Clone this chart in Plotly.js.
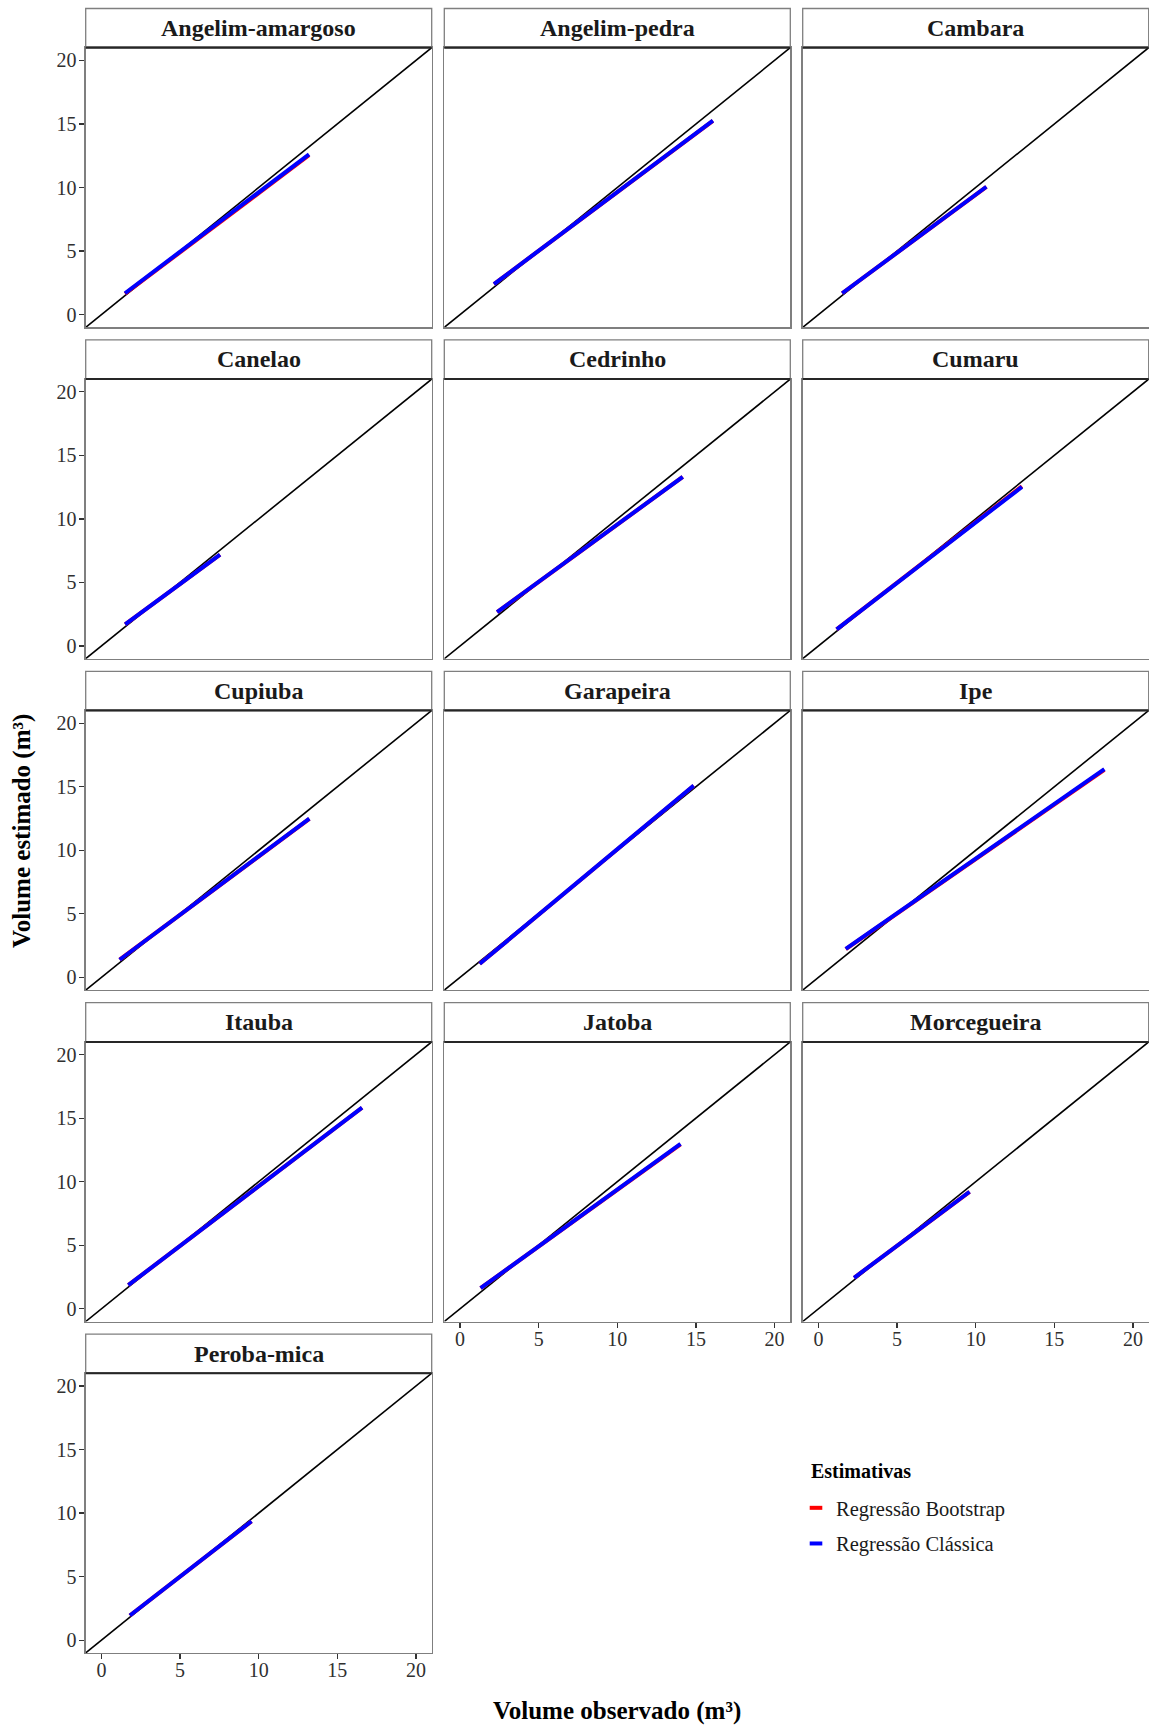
<!DOCTYPE html>
<html>
<head>
<meta charset="utf-8">
<script src="https://cdn.plot.ly/plotly-3.0.1.min.js"></script>
<style>
  html, body { margin: 0; padding: 0; background: #ffffff; }
  #chart { width: 1149px; height: 1728px; }
</style>
</head>
<body>
<div id="chart"></div>
<script>
// Observed vs. estimated volume per species, fitted lines of two regressions
const species = [
  'Angelim-amargoso', 'Angelim-pedra', 'Cambara',
  'Canelao', 'Cedrinho', 'Cumaru',
  'Cupiuba', 'Garapeira', 'Ipe',
  'Itauba', 'Jatoba', 'Morcegueira',
  'Peroba-mica'
];

// Observed volume (m³) at the ends of each fitted line
const obsStart = [1.50, 2.16, 1.51, 1.51, 2.36, 1.16, 1.16, 1.25, 1.74, 1.71, 1.31, 2.27, 1.81];
const obsEnd   = [13.20, 16.08, 10.68, 7.54, 14.16, 12.94, 13.22, 14.86, 18.18, 16.57, 14.02, 9.61, 9.54];

// Estimated volume (m³), classical regression
const classicStart = [1.68, 2.40, 1.68, 1.70, 2.67, 1.31, 1.39, 1.07, 2.25, 1.86, 1.62, 2.44, 1.94];
const classicEnd   = [12.61, 15.26, 10.06, 7.19, 13.31, 12.52, 12.49, 15.09, 16.38, 15.83, 12.97, 9.21, 9.36];

// Estimated volume (m³), bootstrap regression
const bootStart = [1.64, 2.40, 1.68, 1.70, 2.67, 1.31, 1.39, 1.07, 2.23, 1.86, 1.62, 2.44, 1.94];
const bootEnd   = [12.54, 15.24, 10.05, 7.18, 13.30, 12.57, 12.48, 15.08, 16.33, 15.82, 12.93, 9.20, 9.35];

const axisRange = [-1, 21];
const tickValues = [0, 5, 10, 15, 20];
const tickLabels = ['0', '5', '10', '15', '20'];

const seriesNames = ['Regressão Bootstrap', 'Regressão Clássica'];
const seriesColors = ['#ff0000', '#0000ff'];

// Page geometry (pixels)
const W = 1149, H = 1728;
const colLeft = [85.7, 444.3, 802.7];
const panelW = 346.0;
const firstPlotTop = 47.7;
const rowPitch = 331.4;
const plotH = 279.6;
const stripH = 39.2;

const px = x => x / W;
const py = y => 1 - y / H;

const serif = 'Liberation Serif, Times New Roman, serif';
const borderColor = '#7f7f7f';

const traces = [];
const layout = {
  width: W,
  height: H,
  margin: {l: 0, r: 0, t: 0, b: 0},
  paper_bgcolor: '#ffffff',
  plot_bgcolor: '#ffffff',
  font: {family: serif, size: 20, color: '#303030'},
  showlegend: true,
  legend: {
    x: px(796), y: py(1488), xanchor: 'left', yanchor: 'top',
    font: {family: serif, size: 20.5, color: '#1a1a1a'},
    bgcolor: 'rgba(255,255,255,0)',
    borderwidth: 0,
    tracegroupgap: 6
  },
  shapes: [],
  annotations: []
};

// Bottom-row panels carry the x tick labels
const xLabelled = new Set([10, 11, 12]);

species.forEach((name, i) => {
  const row = Math.floor(i / 3);
  const col = i % 3;
  const n = i + 1;
  const xa = 'x' + (n === 1 ? '' : n);
  const ya = 'y' + (n === 1 ? '' : n);
  const top = firstPlotTop + row * rowPitch;
  const left = colLeft[col];

  const common = {
    range: axisRange,
    autorange: false,
    fixedrange: true,
    showgrid: false,
    zeroline: false,
    showline: true,
    mirror: true,
    linecolor: borderColor,
    linewidth: 1.3,
    tickmode: 'array',
    tickvals: tickValues,
    ticktext: tickLabels,
    tickcolor: '#333333',
    ticklen: 5,
    tickwidth: 1.2,
    tickfont: {family: serif, size: 20, color: '#303030'}
  };

  layout['xaxis' + (n === 1 ? '' : n)] = Object.assign({}, common, {
    domain: [px(left), px(left + panelW)],
    anchor: ya,
    ticks: xLabelled.has(i) ? 'outside' : '',
    showticklabels: xLabelled.has(i),
    ticklabelstandoff: -6
  });
  layout['yaxis' + (n === 1 ? '' : n)] = Object.assign({}, common, {
    domain: [py(top + plotH), py(top)],
    anchor: xa,
    ticks: col === 0 ? 'outside' : '',
    showticklabels: col === 0,
    ticklabelstandoff: -1
  });

  // 1:1 reference line across the panel
  traces.push({
    x: axisRange, y: axisRange, xaxis: xa, yaxis: ya,
    mode: 'lines', line: {color: '#000000', width: 1.6},
    showlegend: false, hoverinfo: 'skip', cliponaxis: true
  });
  // Bootstrap regression
  traces.push({
    x: [obsStart[i], obsEnd[i]], y: [bootStart[i], bootEnd[i]],
    xaxis: xa, yaxis: ya, mode: 'lines',
    line: {color: seriesColors[0], width: 4},
    name: seriesNames[0], showlegend: false
  });
  // Classical regression
  traces.push({
    x: [obsStart[i], obsEnd[i]], y: [classicStart[i], classicEnd[i]],
    xaxis: xa, yaxis: ya, mode: 'lines',
    line: {color: seriesColors[1], width: 4},
    name: seriesNames[1], showlegend: false
  });

  // Facet strip
  layout.shapes.push({
    type: 'rect', xref: 'paper', yref: 'paper',
    x0: px(left), x1: px(left + panelW), y0: py(top), y1: py(top - stripH),
    line: {color: borderColor, width: 1.3}, fillcolor: '#ffffff', layer: 'below'
  });
  layout.shapes.push({
    type: 'line', xref: 'paper', yref: 'paper',
    x0: px(left), x1: px(left + panelW), y0: py(top), y1: py(top),
    line: {color: '#262626', width: 2}
  });
  layout.annotations.push({
    text: '<b>' + name + '</b>', xref: 'paper', yref: 'paper',
    x: px(left + panelW / 2), y: py(top - stripH / 2),
    xanchor: 'center', yanchor: 'middle', showarrow: false,
    font: {family: serif, size: 24, color: '#1a1a1a'}
  });
});

// Legend entries drawn as short dashes
seriesNames.forEach((nm, k) => {
  traces.push({
    x: [null], y: [null], xaxis: 'x', yaxis: 'y',
    mode: 'markers', name: nm, legendgroup: 'g' + k,
    marker: {
      symbol: 'line-ew-open', size: 9, color: seriesColors[k],
      line: {color: seriesColors[k], width: 4}
    },
    showlegend: true
  });
});

// Legend heading
layout.annotations.push({
  text: '<b>Estimativas</b>', xref: 'paper', yref: 'paper',
  x: px(809), y: py(1471), xanchor: 'left', yanchor: 'middle', showarrow: false,
  font: {family: serif, size: 20, color: '#000000'}
});

// Shared axis titles
layout.annotations.push({
  text: '<b>Volume observado (m³)</b>', xref: 'paper', yref: 'paper',
  x: px(617), y: py(1711), xanchor: 'center', yanchor: 'middle', showarrow: false,
  font: {family: serif, size: 25, color: '#000000'}
});
layout.annotations.push({
  text: '<b>Volume estimado (m³)</b>', xref: 'paper', yref: 'paper',
  x: px(22), y: py(831), xanchor: 'center', yanchor: 'middle', showarrow: false,
  textangle: -90,
  font: {family: serif, size: 25, color: '#000000'}
});

Plotly.newPlot('chart', traces, layout, {displayModeBar: false, staticPlot: true});
</script>
</body>
</html>
